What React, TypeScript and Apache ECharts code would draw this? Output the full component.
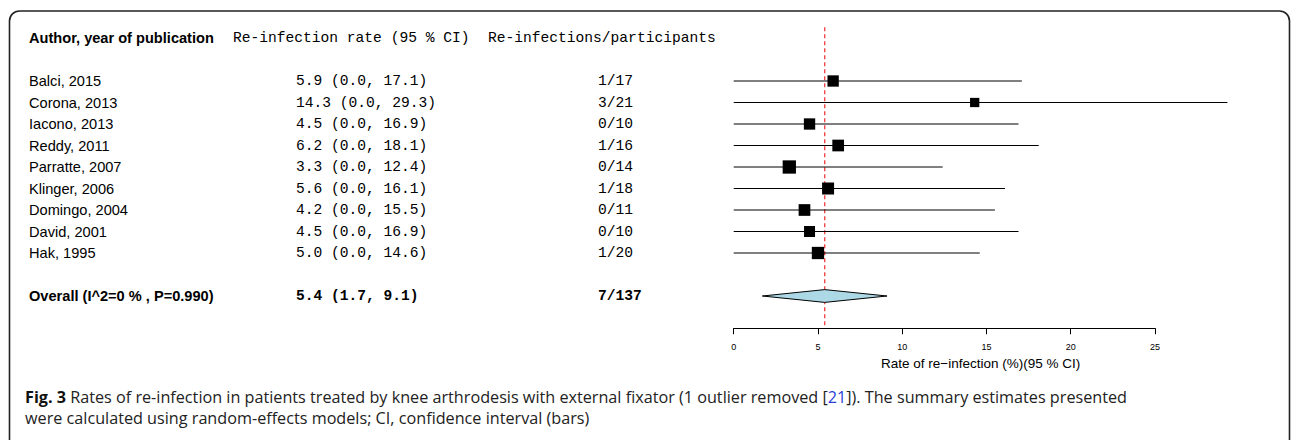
import React, { useEffect, useRef } from "react";
import * as echarts from "echarts";

// ---------- data ----------
const studies = [
  "Balci, 2015",
  "Corona, 2013",
  "Iacono, 2013",
  "Reddy, 2011",
  "Parratte, 2007",
  "Klinger, 2006",
  "Domingo, 2004",
  "David, 2001",
  "Hak, 1995",
];
const rates = [5.9, 14.3, 4.5, 6.2, 3.3, 5.6, 4.2, 4.5, 5.0];
const lower = [0.0, 0.0, 0.0, 0.0, 0.0, 0.0, 0.0, 0.0, 0.0];
const upper = [17.1, 29.3, 16.9, 18.1, 12.4, 16.1, 15.5, 16.9, 14.6];
const events = ["1/17", "3/21", "0/10", "1/16", "0/14", "1/18", "0/11", "0/10", "1/20"];
const weights = [10.6, 7.1, 10.6, 11.3, 14.6, 11.9, 11.3, 10.0, 12.5];
const overallLabel = "Overall (I^2=0 % , P=0.990)";
const overallEstimate = [5.4, 1.7, 9.1];
const overallEvents = "7/137";
const headers = ["Author, year of publication", "Re-infection rate (95 % CI)", "Re-infections/participants"];
const xAxisTitle = "Rate of re\u2212infection (%)(95 % CI)";
const captionLine1Parts = [
  "Fig. 3",
  " Rates of re-infection in patients treated by knee arthrodesis with external fixator (1 outlier removed [",
  "21",
  "]). The summary estimates presented",
];
const captionLine2 = "were calculated using random-effects models; CI, confidence interval (bars)";

// ---------- layout ----------
const ROW0 = 81;
const ROWH = 21.5;
const Y_MIN = -2.5;
const Y_MAX = 11.5;
const HEADER_ROW = -2;
const OVERALL_ROW = 10;
const GRID_LEFT = 733.7;
const GRID_RIGHT_X = 1155;
const COL_AUTHOR = 29;
const COL_RATE = 296;
const COL_COUNT = 598;
const HDR_RATE = 233;
const HDR_COUNT = 488;

const SANS = "'Liberation Sans', Arial, Helvetica, sans-serif";
const MONO = "'Liberation Mono', 'Courier New', monospace";
const CAP = "'Open Sans', 'Noto Sans', sans-serif";
const FS = 14.6;
const CAP_FS = 16.2;

const fmt = (v: number) => v.toFixed(1);

export default function App() {
  const ref = useRef<HTMLDivElement>(null);

  useEffect(() => {
    if (!ref.current) return;
    const chart = echarts.init(ref.current, undefined, { renderer: "svg" });

    const forestData = studies.map((_, i) => [rates[i], lower[i], upper[i], i]);
    const tableRows: number[][] = [[HEADER_ROW]]
      .concat(studies.map((_, i) => [i]))
      .concat([[OVERALL_ROW]]);

    const option: any = {
      animation: false,
      backgroundColor: "#fff",
      grid: {
        left: GRID_LEFT,
        width: GRID_RIGHT_X - GRID_LEFT,
        top: ROW0 + Y_MIN * ROWH,
        height: (Y_MAX - Y_MIN) * ROWH,
        containLabel: false,
      },
      xAxis: {
        type: "value",
        min: 0,
        max: 25,
        interval: 5,
        position: "bottom",
        axisLine: { show: true, onZero: false, lineStyle: { color: "#000", width: 1 } },
        axisTick: { show: true, length: 6, lineStyle: { color: "#000", width: 1 } },
        axisLabel: { fontSize: 9, color: "#000", margin: 14, fontFamily: SANS },
        splitLine: { show: false },
      },
      yAxis: {
        type: "value",
        min: Y_MIN,
        max: Y_MAX,
        inverse: true,
        show: false,
        splitLine: { show: false },
      },
      series: [
        {
          type: "line",
          name: "pooled",
          data: [
            [overallEstimate[0], Y_MIN],
            [overallEstimate[0], Y_MAX],
          ],
          symbol: "none",
          z: 1,
          silent: true,
          lineStyle: { color: "#f04848", width: 1.4, type: [4, 3] },
        },
        {
          type: "custom",
          name: "studies",
          z: 3,
          clip: false,
          silent: true,
          data: forestData,
          encode: { x: [0, 1, 2], y: 3 },
          renderItem: (params: any, api: any) => {
            const i = params.dataIndex;
            const row = api.value(3);
            const pm = api.coord([api.value(0), row]);
            const pl = api.coord([api.value(1), row]);
            const ph = api.coord([api.value(2), row]);
            const s = Math.sqrt(weights[i]) * 3.48;
            return {
              type: "group",
              children: [
                {
                  type: "line",
                  shape: { x1: pl[0], y1: pm[1], x2: ph[0], y2: pm[1] },
                  style: { stroke: "#000", lineWidth: 1 },
                },
                {
                  type: "rect",
                  shape: { x: pm[0] - s / 2, y: pm[1] - s / 2, width: s, height: s },
                  style: { fill: "#000" },
                },
              ],
            };
          },
        },
        {
          type: "custom",
          name: "overall",
          z: 3,
          clip: false,
          silent: true,
          data: [[overallEstimate[0], overallEstimate[1], overallEstimate[2], OVERALL_ROW]],
          encode: { x: [0, 1, 2], y: 3 },
          renderItem: (params: any, api: any) => {
            const row = api.value(3);
            const pm = api.coord([api.value(0), row]);
            const pl = api.coord([api.value(1), row]);
            const ph = api.coord([api.value(2), row]);
            const h = 6.4;
            return {
              type: "polygon",
              shape: {
                points: [
                  [pl[0], pm[1]],
                  [pm[0], pm[1] - h],
                  [ph[0], pm[1]],
                  [pm[0], pm[1] + h],
                ],
              },
              style: { fill: "#add8e6", stroke: "#000", lineWidth: 1 },
            };
          },
        },
        {
          type: "custom",
          name: "table",
          z: 4,
          clip: false,
          silent: true,
          data: tableRows.map((r) => [0, r[0]]),
          encode: { x: 0, y: 1 },
          renderItem: (params: any, api: any) => {
            const row = api.value(1);
            const y = api.coord([0, row])[1];
            const mk = (x: number, text: string, family: string, bold: boolean) => ({
              type: "text",
              x,
              y,
              style: {
                text,
                fill: "#000",
                fontSize: FS,
                fontFamily: family,
                fontWeight: bold ? "bold" : "normal",
                align: "left",
                verticalAlign: "middle",
              },
            });
            if (row === HEADER_ROW) {
              return {
                type: "group",
                children: [
                  mk(COL_AUTHOR, headers[0], SANS, true),
                  mk(HDR_RATE, headers[1], MONO, false),
                  mk(HDR_COUNT, headers[2], MONO, false),
                ],
              };
            }
            if (row === OVERALL_ROW) {
              return {
                type: "group",
                children: [
                  mk(COL_AUTHOR, overallLabel, SANS, true),
                  mk(
                    COL_RATE,
                    `${fmt(overallEstimate[0])} (${fmt(overallEstimate[1])}, ${fmt(overallEstimate[2])})`,
                    MONO,
                    true
                  ),
                  mk(COL_COUNT, overallEvents, MONO, true),
                ],
              };
            }
            const i = row;
            return {
              type: "group",
              children: [
                mk(COL_AUTHOR, studies[i], SANS, false),
                mk(COL_RATE, `${fmt(rates[i])} (${fmt(lower[i])}, ${fmt(upper[i])})`, MONO, false),
                mk(COL_COUNT, events[i], MONO, false),
              ],
            };
          },
        },
      ],
      graphic: [
        {
          type: "rect",
          z: 0,
          silent: true,
          shape: { x: 9.5, y: 11, width: 1280, height: 480, r: 10 },
          style: { fill: "none", stroke: "#222", lineWidth: 1.6 },
        },
        {
          type: "text",
          x: (GRID_LEFT + (GRID_LEFT + ((GRID_RIGHT_X - GRID_LEFT) / 25) * upper[1])) / 2,
          y: 363,
          silent: true,
          style: {
            text: xAxisTitle,
            fill: "#000",
            fontSize: 13.5,
            fontFamily: SANS,
            align: "center",
            verticalAlign: "middle",
          },
        },
        {
          type: "text",
          x: 25,
          y: 397,
          silent: true,
          style: {
            text: `{b|${captionLine1Parts[0]}}{r|${captionLine1Parts[1]}}{l|${captionLine1Parts[2]}}{r|${captionLine1Parts[3]}}`,
            fill: "#222",
            fontSize: CAP_FS,
            fontFamily: CAP,
            align: "left",
            verticalAlign: "middle",
            rich: {
              b: { fontWeight: "bold", fontSize: CAP_FS, fill: "#111", fontFamily: CAP },
              r: { fontSize: CAP_FS, fill: "#222", fontFamily: CAP },
              l: { fill: "#2b3fd6", fontSize: CAP_FS, fontFamily: CAP },
            },
          },
        },
        {
          type: "text",
          x: 25,
          y: 418,
          silent: true,
          style: {
            text: captionLine2,
            fill: "#222",
            fontSize: CAP_FS,
            fontFamily: CAP,
            align: "left",
            verticalAlign: "middle",
          },
        },
      ],
    };

    chart.setOption(option);
    return () => {
      chart.dispose();
    };
  }, []);

  return (
    <div
      ref={ref}
      style={{ position: "fixed", left: 0, top: 0, width: 1292, height: 440, background: "#fff" }}
    />
  );
}
